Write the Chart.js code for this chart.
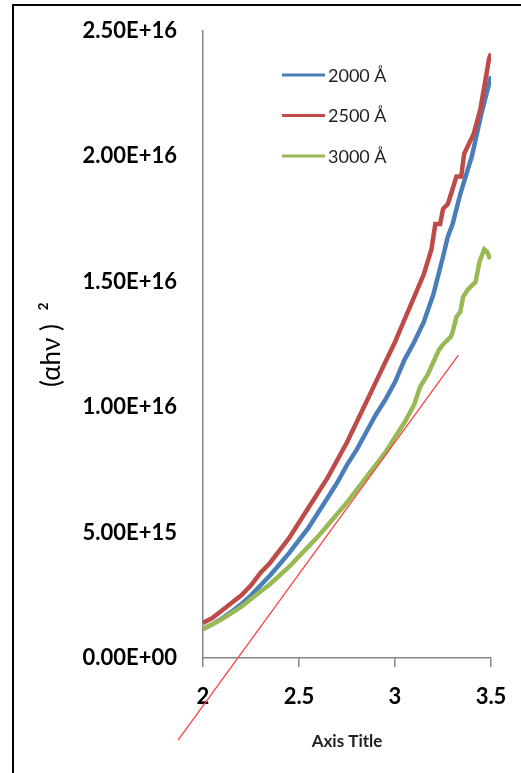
<!DOCTYPE html>
<html lang="en">
<head>
<meta charset="UTF-8">
<title>(αhν)² plot</title>
<script src="https://cdn.jsdelivr.net/npm/chart.js"></script>
<style>
  html, body { margin: 0; padding: 0; background: #fff; overflow: hidden; }
  #frame { position: absolute; left: 12px; top: 4px; width: 600px; height: 900px; border: 2px solid #000; }
  canvas { position: absolute; left: 0; top: 0; }
</style>
</head>
<body>
<div id="frame"></div>
<canvas id="tauc" width="521" height="773"></canvas>
<script>
const seriesNames = ['2000 Å', '2500 Å', '3000 Å'];
const seriesColors = ['#4A7EBB', '#BE4B48', '#98B954'];

// x = photon energy, y = (αhν)² in units of 1E15
const x2000 = [2.00, 2.05, 2.10, 2.15, 2.20, 2.25, 2.30, 2.35, 2.40, 2.45, 2.50, 2.55, 2.60, 2.65, 2.70, 2.75, 2.80, 2.85, 2.90, 2.95, 3.00, 3.05, 3.10, 3.15, 3.20, 3.25, 3.275, 3.30, 3.34, 3.40, 3.45, 3.50];
const y2000 = [1.16, 1.35, 1.58, 1.85, 2.15, 2.5, 2.9, 3.3, 3.75, 4.2, 4.7, 5.2, 5.8, 6.4, 7.0, 7.7, 8.3, 9.0, 9.7, 10.3, 11.0, 11.9, 12.6, 13.4, 14.5, 16.0, 16.8, 17.3, 18.5, 20.0, 21.7, 23.2];

const x2500 = [2.00, 2.05, 2.10, 2.15, 2.20, 2.25, 2.30, 2.35, 2.40, 2.45, 2.50, 2.55, 2.60, 2.65, 2.70, 2.75, 2.80, 2.85, 2.90, 2.95, 3.00, 3.05, 3.10, 3.15, 3.19, 3.21, 3.235, 3.25, 3.275, 3.30, 3.32, 3.345, 3.36, 3.41, 3.445, 3.47, 3.49, 3.50];
const y2500 = [1.4, 1.6, 1.9, 2.2, 2.5, 2.9, 3.4, 3.8, 4.3, 4.8, 5.4, 6.0, 6.6, 7.2, 7.9, 8.6, 9.4, 10.2, 11.0, 11.8, 12.6, 13.5, 14.4, 15.3, 16.3, 17.3, 17.3, 17.9, 18.1, 18.7, 19.2, 19.2, 20.1, 20.9, 21.9, 23.0, 23.9, 24.1];

const x3000 = [2.00, 2.05, 2.10, 2.15, 2.20, 2.25, 2.30, 2.35, 2.40, 2.45, 2.50, 2.55, 2.60, 2.65, 2.70, 2.75, 2.80, 2.85, 2.90, 2.95, 3.00, 3.05, 3.10, 3.13, 3.17, 3.20, 3.23, 3.25, 3.29, 3.30, 3.32, 3.34, 3.355, 3.38, 3.42, 3.44, 3.465, 3.48, 3.495];
const y3000 = [1.16, 1.35, 1.55, 1.8, 2.05, 2.35, 2.65, 2.95, 3.3, 3.65, 4.05, 4.45, 4.85, 5.3, 5.75, 6.2, 6.7, 7.2, 7.7, 8.2, 8.8, 9.4, 10.1, 10.8, 11.3, 11.8, 12.3, 12.5, 12.8, 13.0, 13.6, 13.8, 14.4, 14.7, 15.0, 15.8, 16.3, 16.2, 15.9];

// hand-drawn tangent (band gap extrapolation)
const tangentX = [1.87, 3.33];
const tangentY = [-3.27, 12.08];

const xTicks = [2, 2.5, 3, 3.5];
const yTicks = [0, 5e15, 1e16, 1.5e16, 2e16, 2.5e16];

const E15 = 1e15;
function pts(xs, ys) {
  return xs.map((x, i) => ({ x: x, y: ys[i] * E15 }));
}

function sci(v) {
  const parts = v.toExponential(2).split('e');
  const n = parseInt(parts[1], 10);
  return parts[0] + 'E' + (n < 0 ? '-' : '+') + String(Math.abs(n)).padStart(2, '0');
}

// legend drawn inside the plot, like the Excel one
const innerLegend = {
  id: 'innerLegend',
  afterDraw(chart) {
    const ctx = chart.ctx;
    ctx.save();
    ctx.font = '18px Lato';
    ctx.textBaseline = 'middle';
    ctx.fillStyle = '#222';
    seriesNames.forEach((name, i) => {
      const y = 75 + i * 40.5;
      ctx.strokeStyle = seriesColors[i];
      ctx.lineWidth = 3;
      ctx.beginPath();
      ctx.moveTo(282, y);
      ctx.lineTo(325, y);
      ctx.stroke();
      ctx.fillText(name, 328, y + 1);
    });
    ctx.restore();
  }
};

const lineStyle = { borderWidth: 4.5, pointRadius: 0, tension: 0, fill: false };

new Chart(document.getElementById('tauc'), {
  type: 'line',
  data: {
    datasets: [
      Object.assign({ label: seriesNames[0], data: pts(x2000, y2000), borderColor: seriesColors[0], order: 3 }, lineStyle),
      Object.assign({ label: seriesNames[1], data: pts(x2500, y2500), borderColor: seriesColors[1], order: 2 }, lineStyle),
      Object.assign({ label: seriesNames[2], data: pts(x3000, y3000), borderColor: seriesColors[2], order: 1 }, lineStyle),
      { label: 'tangent', data: pts(tangentX, tangentY), borderColor: '#FF4040', borderWidth: 1.3, pointRadius: 0, clip: false, order: 0 }
    ]
  },
  options: {
    responsive: false,
    animation: false,
    layout: { padding: { left: 32, top: 31, right: 30, bottom: 17 } },
    plugins: { legend: { display: false }, tooltip: { enabled: false } },
    scales: {
      x: {
        type: 'linear',
        min: 2, max: 3.5,
        afterBuildTicks: s => { s.ticks = xTicks.map(v => ({ value: v })); },
        afterFit: s => { s.height = 98; },
        grid: { display: true, drawOnChartArea: false, drawTicks: true, tickLength: 9, color: '#868686', lineWidth: 1.5 },
        border: { display: true, color: '#868686', width: 1.5 },
        ticks: { padding: 8, color: '#000', font: { family: 'Lato', size: 22, weight: 'bold', lineHeight: 2 }, callback: v => String(v) },
        title: { display: true, text: 'Axis Title', color: '#222', font: { family: 'Lato', size: 17, weight: 'bold' }, padding: { top: 4, bottom: 4 } }
      },
      y: {
        min: 0, max: 2.5e16,
        afterBuildTicks: s => { s.ticks = yTicks.map(v => ({ value: v })); },
        afterFit: s => { s.width = 171; },
        grid: { display: false, drawTicks: true, tickLength: 20 },
        border: { display: true, color: '#868686', width: 1.5 },
        ticks: { padding: 6, color: '#000', font: { family: 'Lato', size: 22, weight: 'bold' }, callback: v => sci(v) },
        title: { display: true, text: '(αhν )  ²', color: '#000', font: { family: 'Lato', size: 26 }, padding: { top: 4, bottom: 4 } }
      }
    }
  },
  plugins: [innerLegend]
});
</script>
</body>
</html>
